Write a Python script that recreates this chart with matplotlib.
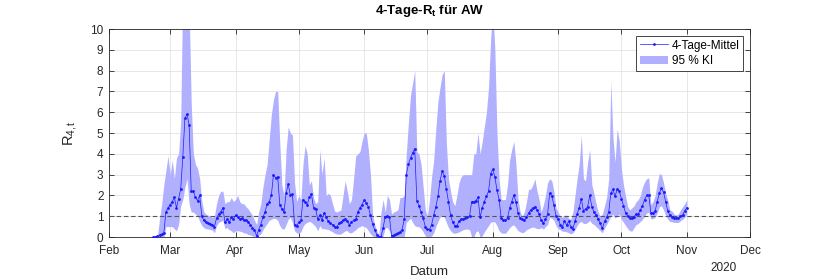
import matplotlib
matplotlib.use("Agg")
import numpy as np
import pandas as pd
import matplotlib.pyplot as plt
import matplotlib.dates as mdates
from datetime import datetime

# -------------------------------------------------
# Daten, taeglich vom 22.02. bis 01.11.2020
start_datum = "2020-02-22"
ende_datum = "2020-11-01"

mittel_feb = [0.0, 0.0, 0.03, 0.1, 0.13, 0.2, 1.2, 1.4]
mittel_mar = [1.55, 1.7, 1.9, 1.4, 1.85, 2.3, 3.85, 5.7, 5.9, 5.4, 2.2, 2.2, 1.9, 1.75, 2.0, 1.0,
              0.8, 0.72, 0.67, 0.62, 0.6, 0.5, 0.9, 1.1, 1.2, 1.4, 0.7, 0.85, 0.7, 0.95, 0.85]
mittel_apr = [1.05, 0.95, 0.85, 0.9, 0.8, 0.82, 0.7, 0.6, 0.45, 0.35, 0.05, 0.35, 0.6, 0.95, 1.2,
              1.6, 1.7, 2.0, 3.0, 2.85, 2.9, 1.55, 1.35, 1.2, 2.1, 2.55, 2.0, 2.05, 0.6, 0.55]
mittel_mai = [0.7, 0.8, 1.8, 1.7, 1.55, 1.9, 2.05, 1.4, 1.35, 0.85, 1.05, 0.8, 1.15, 0.95, 0.75, 0.65,
              0.6, 0.5, 0.47, 0.65, 0.72, 0.8, 0.88, 0.75, 0.6, 0.72, 0.8, 0.85, 1.2, 1.4, 1.55]
mittel_jun = [1.78, 1.65, 1.45, 1.05, 0.62, 0.35, 0.12, 0.02, 0.0, 0.45, 0.98, 1.0, 0.98, 0.05, 0.1,
              0.15, 0.2, 0.25, 0.35, 0.85, 3.0, 3.5, 3.8, 4.05, 4.25, 1.75, 1.5, 1.2, 0.9, 0.5]
mittel_jul = [0.38, 0.35, 0.6, 1.05, 1.45, 1.95, 2.7, 3.15, 2.95, 2.3, 1.7, 1.05, 0.7, 0.55, 0.55, 0.75,
              0.85, 0.85, 0.9, 0.95, 1.0, 1.7, 1.7, 1.75, 1.9, 0.95, 1.4, 1.7, 1.95, 2.2, 3.05]
mittel_aug = [3.25, 2.9, 2.25, 1.8, 0.9, 0.8, 0.82, 0.9, 1.4, 1.7, 2.0, 1.7, 1.15, 0.9, 0.85, 0.82,
              0.95, 1.15, 1.3, 1.4, 1.45, 1.3, 1.1, 0.8, 0.68, 0.85, 1.1, 2.1, 1.95, 1.55, 1.0]
mittel_sep = [0.88, 0.6, 0.5, 0.75, 0.58, 0.75, 0.5, 0.4, 0.75, 1.1, 1.4, 1.85, 1.25, 1.35, 1.45,
              2.0, 1.45, 1.2, 1.05, 0.85, 0.65, 0.42, 0.75, 0.95, 1.2, 2.1, 2.3, 1.95, 2.3, 2.2]
mittel_okt = [1.85, 1.5, 1.15, 1.0, 0.9, 0.92, 0.98, 1.1, 1.1, 1.3, 1.5, 1.8, 2.0, 2.0, 1.15, 1.15,
              1.25, 1.7, 2.1, 2.35, 2.15, 1.7, 1.25, 1.05, 0.98, 0.93, 0.9, 0.92, 1.0, 1.05, 1.25]
mittel_nov = [1.4]

oben_feb = [0.05, 0.05, 0.05, 0.9, 1.6, 2.5, 3.2, 3.9]
oben_mar = [3.0, 3.7, 2.8, 3.8, 4.0, 5.5, 12, 12, 12, 11, 6.4, 4.0, 3.5, 3.3, 2.8, 1.7,
            1.2, 1.1, 1.05, 1.0, 0.95, 1.0, 1.6, 2.0, 2.2, 2.2, 1.6, 1.7, 1.7, 1.9, 1.7]
oben_apr = [1.8, 2.0, 1.7, 1.6, 1.6, 1.45, 1.35, 1.2, 1.05, 0.8, 0.6, 1.2, 1.6, 2.4, 3.0,
            3.5, 4.7, 5.9, 6.6, 7.0, 7.0, 4.5, 2.5, 2.0, 4.2, 5.3, 5.0, 4.9, 2.6, 1.7]
oben_mai = [2.0, 1.8, 3.5, 4.4, 4.0, 2.5, 2.7, 1.9, 1.6, 1.7, 4.2, 3.0, 3.8, 2.0, 2.1, 2.0,
            1.6, 1.25, 1.2, 1.25, 1.3, 2.0, 2.7, 2.2, 1.6, 1.8, 2.8, 3.9, 4.0, 4.1, 4.6]
oben_jun = [5.0, 5.0, 4.2, 3.0, 1.1, 0.6, 0.3, 0.1, 1.2, 1.8, 1.2, 2.0, 1.8, 1.1, 1.2,
            1.25, 1.3, 1.9, 1.9, 2.0, 4.0, 5.5, 6.8, 7.4, 8.0, 4.1, 4.0, 3.5, 2.4, 1.3]
oben_jul = [1.0, 1.8, 2.9, 3.7, 5.2, 6.5, 7.2, 7.8, 8.0, 4.5, 2.8, 2.2, 1.7, 1.5, 2.0, 2.6,
            2.9, 3.0, 3.0, 3.0, 3.0, 3.0, 4.0, 4.0, 5.0, 4.0, 4.6, 5.3, 6.0, 7.2, 9.5]
oben_aug = [11, 9.0, 5.0, 2.8, 1.8, 1.8, 1.8, 2.5, 3.7, 4.2, 4.6, 3.5, 1.8, 1.2, 1.0, 1.2,
            1.7, 2.3, 2.3, 2.5, 2.8, 2.2, 1.8, 1.2, 1.55, 2.0, 2.6, 2.8, 2.7, 2.2, 1.4]
oben_sep = [1.2, 1.0, 0.95, 1.05, 1.05, 0.9, 0.85, 1.2, 2.0, 2.8, 3.5, 4.9, 2.8, 2.7, 3.6,
            4.2, 2.5, 2.1, 1.6, 1.2, 1.0, 1.1, 1.5, 1.9, 2.8, 7.5, 4.8, 3.6, 5.2, 4.6]
oben_okt = [3.3, 2.5, 1.95, 1.45, 1.3, 1.4, 1.5, 1.7, 1.8, 2.0, 2.4, 2.65, 2.8, 2.85, 1.55, 1.7,
            2.0, 2.6, 3.05, 3.0, 2.6, 2.1, 1.75, 1.3, 1.25, 1.1, 1.05, 1.1, 1.3, 1.45, 1.6]
oben_nov = [1.78]

unten_feb = [0, 0, 0, 0, 0, 0, 0.5, 0.5]
unten_mar = [0.5, 0.5, 0.4, 0.3, 0.6, 1.5, 1.8, 2.4, 2.8, 1.6, 1.2, 1.2, 1.1, 1.0, 0.75, 0.55,
             0.45, 0.4, 0.38, 0.36, 0.33, 0.2, 0.55, 0.7, 0.75, 0.8, 0.4, 0.45, 0.35, 0.3, 0.2]
unten_apr = [0.3, 0.3, 0.28, 0.25, 0.2, 0.18, 0.12, 0.1, 0.05, 0.03, 0.0, 0.08, 0.15, 0.35, 0.5,
             0.65, 0.8, 0.85, 0.9, 0.88, 0.8, 0.55, 0.4, 0.38, 0.6, 0.85, 0.95, 0.7, 0.3, 0.2]
unten_mai = [0.18, 0.25, 0.5, 0.65, 0.7, 0.75, 0.7, 0.6, 0.5, 0.3, 0.55, 0.4, 0.4, 0.38, 0.36, 0.3,
             0.25, 0.18, 0.15, 0.13, 0.15, 0.22, 0.3, 0.3, 0.2, 0.2, 0.28, 0.35, 0.45, 0.5, 0.55]
unten_jun = [0.5, 0.45, 0.3, 0.15, 0.05, 0, 0, 0, 0, 0.05, 0.45, 0.45, 0.3, 0, 0,
             0, 0, 0, 0, 0, 0.7, 0.8, 0.9, 0.7, 0.55, 0.5, 0.5, 0.4, 0.25, 0.05]
unten_jul = [0, 0, 0.05, 0.2, 0.5, 0.75, 0.95, 1.05, 0.95, 0.7, 0.45, 0.3, 0.2, 0.18, 0.2, 0.25,
             0.3, 0.35, 0.38, 0.38, 0.35, 0, 0, 0.25, 0.3, 0, 0.05, 0.25, 0.4, 0.55, 0.7]
unten_aug = [0.75, 0.72, 0.55, 0.3, 0.2, 0.18, 0.18, 0.3, 0.45, 0.55, 0.58, 0.45, 0.3, 0.25, 0.2, 0.25,
             0.35, 0.4, 0.45, 0.48, 0.45, 0.4, 0.4, 0.45, 0.38, 0.5, 0.6, 0.95, 0.9, 0.8, 0.55]
unten_sep = [0.4, 0.35, 0.28, 0.27, 0.25, 0.2, 0.15, 0.2, 0.35, 0.55, 0.7, 0.75, 0.65, 0.65, 0.7,
             0.8, 0.65, 0.6, 0.5, 0.4, 0.3, 0.2, 0.45, 0.6, 0.8, 1.0, 1.1, 0.9, 1.0, 1.1]
unten_okt = [0.85, 0.7, 0.55, 0.4, 0.3, 0.28, 0.45, 0.6, 0.65, 0.75, 0.85, 1.0, 1.15, 1.2, 0.87, 0.88,
             0.95, 1.15, 1.45, 1.5, 1.3, 1.05, 0.85, 0.75, 0.73, 0.7, 0.7, 0.7, 0.78, 0.85, 0.95]
unten_nov = [1.1]

mittel = (mittel_feb + mittel_mar + mittel_apr + mittel_mai + mittel_jun + mittel_jul
          + mittel_aug + mittel_sep + mittel_okt + mittel_nov)
oben = (oben_feb + oben_mar + oben_apr + oben_mai + oben_jun + oben_jul
        + oben_aug + oben_sep + oben_okt + oben_nov)
unten = (unten_feb + unten_mar + unten_apr + unten_mai + unten_jun + unten_jul
         + unten_aug + unten_sep + unten_okt + unten_nov)

datum = pd.date_range(start_datum, ende_datum, freq="D")

# -------------------------------------------------
# Stil (MATLAB-aehnlich)
plt.rcParams["font.family"] = ["Liberation Sans", "DejaVu Sans"]
plt.rcParams["mathtext.fontset"] = "custom"
plt.rcParams["mathtext.rm"] = "Liberation Sans"
plt.rcParams["mathtext.it"] = "Liberation Sans"
plt.rcParams["mathtext.bf"] = "Liberation Sans:bold"

farbe_achse = "#262626"

fig = plt.figure(figsize=(8.3, 2.78), dpi=100)
ax = fig.add_axes([109 / 830, 1 - 237 / 278, 641 / 830, 208 / 278])

band = ax.fill_between(datum, np.array(unten), np.array(oben), color="#b0b0ff",
                       linewidth=0, label="95 % KI", zorder=2)
ax.axhline(1, color="#555555", linestyle="--", linewidth=0.8, dashes=(4, 2.5), zorder=3)
linie, = ax.plot(datum, mittel, ".-", color="#1a1aff", linewidth=0.5, markersize=2.0,
                 label="4-Tage-Mittel", zorder=4)

ax.set_xlim(datetime(2020, 2, 1), datetime(2020, 12, 1))
ax.set_ylim(0, 10)
ax.set_yticks(range(0, 11))
ax.xaxis.set_major_locator(mdates.MonthLocator())
ax.xaxis.set_major_formatter(mdates.DateFormatter("%b"))

ax.grid(True, color="#e3e3e3", linewidth=0.6)
ax.set_axisbelow(True)
ax.tick_params(direction="in", top=True, right=True, length=3.5, width=0.6,
               color=farbe_achse, labelcolor=farbe_achse, labelsize=8.5)
ax.tick_params(axis="x", pad=6)
ax.tick_params(axis="y", pad=4)
for s in ax.spines.values():
    s.set_color(farbe_achse)
    s.set_linewidth(0.6)

ax.set_title(r"4-Tage-R$_\mathbf{t}$ für AW", fontsize=9.5, fontweight="bold",
             color="#000000", pad=11)
ax.set_xlabel("Datum", fontsize=9.5, color=farbe_achse, labelpad=6)
ax.set_ylabel(r"R$_\mathrm{4,t}$", fontsize=10.5, color=farbe_achse, labelpad=8)

leg = ax.legend(handles=[linie, band], loc="upper right", bbox_to_anchor=(0.989, 0.966),
                fontsize=8.5, frameon=True, fancybox=False, framealpha=1,
                edgecolor=farbe_achse, handlelength=2.4, labelspacing=0.3,
                borderpad=0.3, handletextpad=0.3, borderaxespad=0)
leg.get_frame().set_linewidth(0.6)

fig.text(724 / 830, 1 - 268 / 278, "2020", ha="center", va="center",
         fontsize=8.5, color=farbe_achse)

fig.savefig("out.png", dpi=100)
